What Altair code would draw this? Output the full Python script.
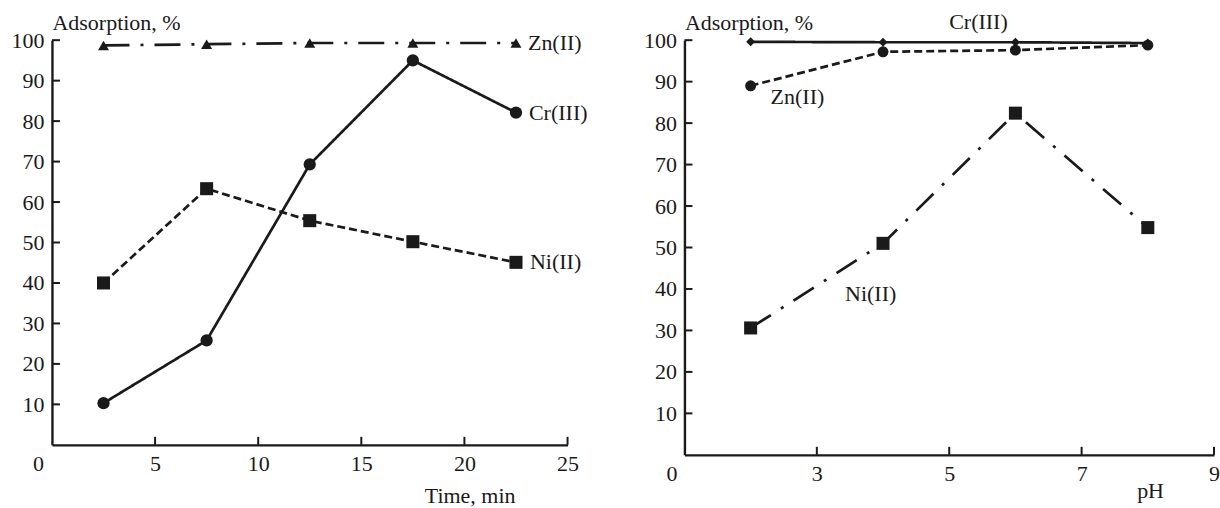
import altair as alt
import pandas as pd

# ---------------- data ----------------
series_names = ["Zn(II)", "Cr(III)", "Ni(II)"]

time_min = [2.5, 7.5, 12.5, 17.5, 22.5]
zn_time = [98.7, 99.0, 99.3, 99.3, 99.3]
cr_time = [10.3, 25.8, 69.3, 95.0, 82.1]
ni_time = [40.0, 63.3, 55.4, 50.2, 45.1]

ph_values = [2, 4, 6, 8]
cr_ph = [99.6, 99.5, 99.5, 99.3]
zn_ph = [89.0, 97.2, 97.6, 98.8]
ni_ph = [30.6, 51.0, 82.4, 54.8]

y_ticks = [10, 20, 30, 40, 50, 60, 70, 80, 90, 100]
time_ticks = [0, 5, 10, 15, 20, 25]
ph_ticks = [1, 3, 5, 7, 9]

# ---------------- style ----------------
FONT = "Liberation Serif"
FS = 22
INK = "#1a1a1a"
SW = 2.7
LW, LH = 516, 405
RW, RH = 530, 415


def long_df(xs, cols):
    rows = []
    for name, ys in cols.items():
        for x, y in zip(xs, ys):
            rows.append({"series": name, "x": x, "y": y})
    return pd.DataFrame(rows)


left_df = long_df(time_min, {"Zn(II)": zn_time, "Cr(III)": cr_time, "Ni(II)": ni_time})
right_df = long_df(ph_values, {"Cr(III)": cr_ph, "Zn(II)": zn_ph, "Ni(II)": ni_ph})


def panel(df, xdomain, xaxis, w, h, styles, xtick_vals):
    xs = alt.Scale(domain=xdomain, nice=False, zero=False)
    ys = alt.Scale(domain=[0, 100], nice=False, zero=False)
    yaxis = alt.Axis(values=y_ticks, title="Adsorption, %", titleAngle=0, titleX=0,
                     titleY=-11, titleAlign="left", titleBaseline="alphabetic",
                     labelPadding=8, ticks=False)
    X = lambda: alt.X("x:Q", scale=xs, axis=xaxis)
    Y = lambda: alt.Y("y:Q", scale=ys, axis=yaxis)
    layers = []
    # inward ticks
    yt = alt.Chart(pd.DataFrame({"y": y_ticks})).mark_rule(color=INK, strokeWidth=2).encode(
        y=Y(), x=alt.value(0), x2=alt.value(8))
    xt = alt.Chart(pd.DataFrame({"x": xtick_vals})).mark_rule(color=INK, strokeWidth=2).encode(
        x=X(), y=alt.value(h), y2=alt.value(h - 8))
    layers += [yt, xt]
    for name, st in styles.items():
        sub = df[df["series"] == name]
        ln = alt.Chart(sub).mark_line(color=INK, strokeWidth=SW, strokeDash=st["dash"]).encode(
            x=X(), y=Y())
        layers.append(ln)
    for name, st in styles.items():
        sub = df[df["series"] == name]
        pt = alt.Chart(sub).mark_point(filled=True, opacity=1, color=INK, shape=st["shape"],
                                       size=st["size"]).encode(x=X(), y=Y())
        layers.append(pt)
    for name, st in styles.items():
        sub = df[(df["series"] == name) & (df["x"] == st["lx"])]
        tx = alt.Chart(sub).mark_text(font=FONT, fontSize=FS, color=INK, align=st["align"],
                                      baseline=st["baseline"], dx=st["dx"], dy=st["dy"]).encode(
            x=X(), y=Y(), text="series:N")
        layers.append(tx)
    return alt.layer(*layers).properties(width=w, height=h)


left_axis = alt.Axis(values=time_ticks, title="Time, min", titleX=418, titleY=58,
                     titleAlign="center", titleBaseline="alphabetic", labelPadding=9,
                     ticks=False,
                     labelOffset={"condition": {"test": "datum.value === 0", "value": -14}, "value": 0})
right_axis = alt.Axis(values=ph_ticks, title="pH", titleX=466, titleY=43,
                      titleAlign="center", titleBaseline="alphabetic", labelPadding=9,
                      ticks=False,
                      labelExpr="datum.value === 1 ? '0' : datum.label",
                      labelOffset={"condition": {"test": "datum.value === 1", "value": -13}, "value": 0})

left_styles = {
    "Zn(II)": dict(dash=[26, 11, 3, 11], shape="triangle-up", size=120, lx=22.5,
                   align="left", baseline="middle", dx=12, dy=0),
    "Cr(III)": dict(dash=[1, 0], shape="circle", size=150, lx=22.5,
                    align="left", baseline="middle", dx=13, dy=0),
    "Ni(II)": dict(dash=[8, 4], shape="square", size=170, lx=22.5,
                   align="left", baseline="middle", dx=14, dy=0),
}
right_styles = {
    "Cr(III)": dict(dash=[1, 0], shape="diamond", size=80, lx=6,
                    align="center", baseline="alphabetic", dx=-37, dy=-13),
    "Zn(II)": dict(dash=[8, 4], shape="circle", size=120, lx=2,
                   align="left", baseline="alphabetic", dx=20, dy=18),
    "Ni(II)": dict(dash=[24, 12, 3, 12], shape="square", size=170, lx=4,
                   align="left", baseline="alphabetic", dx=-38, dy=58),
}

left = panel(left_df, [0, 25], left_axis, LW, LH, left_styles, [5, 10, 15, 20, 25])
right = panel(right_df, [1, 9], right_axis, RW, RH, right_styles, [3, 5, 7, 9])

chart = alt.hconcat(left, right, spacing=117, bounds="flush").properties(
    padding={"left": 11, "top": 11, "right": 0, "bottom": 0}
).configure_view(stroke=None).configure_axis(
    grid=False, domainColor=INK, domainWidth=2.4, labelFont=FONT, labelFontSize=FS,
    labelColor=INK, titleFont=FONT, titleFontSize=FS, titleFontWeight="normal",
    titleColor=INK, labelFlush=False, labelOverlap=False
)

chart.save("out.html", embed_options={"renderer": "svg", "actions": False})
